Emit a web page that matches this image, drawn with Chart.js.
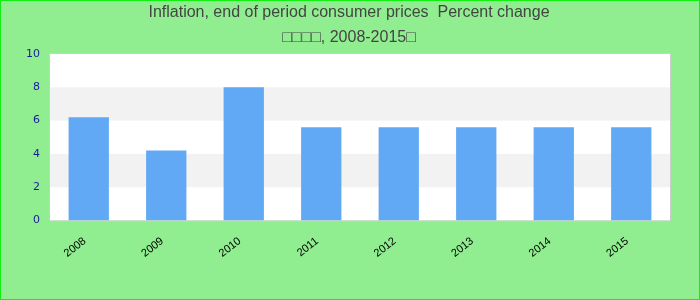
<!DOCTYPE html>
<html>
<head>
<meta charset="utf-8">
<script src="https://cdn.jsdelivr.net/npm/chart.js@4"></script>
<style>
  body { margin: 0; background: #fff; }
  #wrap { width: 700px; height: 300px; }
</style>
</head>
<body>
<div id="wrap"><canvas id="chart" width="700" height="300"></canvas></div>
<script>
/* ================= DATA ================= */
const years = ["2008", "2009", "2010", "2011", "2012", "2013", "2014", "2015"];
const inflation = [6.2, 4.2, 8.0, 5.6, 5.6, 5.6, 5.6, 5.6];
const titleLines = ["Inflation, end of period consumer prices  Percent change", "\u25A1\u25A1\u25A1\u25A1, 2008-2015\u25A1"];

/* ================= BACKGROUND + BANDS ================= */
const decor = {
    id: "decor",
    beforeDraw(c) {
        const ctx = c.ctx;
        ctx.save();
        ctx.fillStyle = "#90ee90";
        ctx.fillRect(0, 0, c.width, c.height);
        ctx.strokeStyle = "#11ee11";
        ctx.lineWidth = 1;
        ctx.strokeRect(0.5, 0.5, c.width - 1, c.height - 1);

        const a = c.chartArea;
        const y = c.scales.y;
        ctx.fillStyle = "#ffffff";
        ctx.fillRect(a.left, a.top, a.right - a.left, a.bottom - a.top);
        // alternate grey bands
        for (let v = 2; v < 10; v += 4) {
            const top = y.getPixelForValue(v + 2);
            const bot = y.getPixelForValue(v);
            ctx.fillStyle = "#f2f2f2";
            ctx.fillRect(a.left, top, a.right - a.left, bot - top);
        }
        ctx.strokeStyle = "#cccccc";
        ctx.lineWidth = 1;
        ctx.strokeRect(a.left - 0.5, a.top - 0.5, a.right - a.left + 1, a.bottom - a.top + 1);
        ctx.restore();
    },
    afterDraw(c) {
        // title centred on the whole canvas
        const ctx = c.ctx;
        ctx.save();
        ctx.fillStyle = "#444444";
        ctx.font = "16px 'Liberation Sans', Arial, sans-serif";
        ctx.textAlign = "center";
        ctx.textBaseline = "middle";
        ctx.fillText(titleLines[0], 349, 13);
        ctx.fillText(titleLines[1], 349, 38);
        ctx.restore();
    }
};

new Chart(document.getElementById("chart"), {
    type: "bar",
    data: {
        labels: years,
        datasets: [{
            data: inflation,
            backgroundColor: "#62a9f5",
            categoryPercentage: 1,
            barPercentage: 0.52
        }]
    },
    options: {
        responsive: false,
        animation: false,
        layout: { padding: { left: 18, right: 30, top: 54, bottom: 34 } },
        plugins: {
            legend: { display: false },
            tooltip: { enabled: false },
            title: { display: false }
        },
        scales: {
            x: {
                grid: { display: false },
                border: { display: false },
                ticks: {
                    color: "#000000",
                    font: { family: "'Liberation Sans', Arial, sans-serif", size: 11 },
                    minRotation: 38,
                    maxRotation: 38,
                    labelOffset: -4,
                    padding: 6
                }
            },
            y: {
                min: 0,
                max: 10,
                grid: { display: false, drawTicks: false },
                border: { display: false },
                afterFit(scale) { scale.width = 32; },
                ticks: {
                    stepSize: 2,
                    color: "#1a1a99",
                    font: { family: "'DejaVu Sans', sans-serif", size: 11 },
                    padding: 10
                }
            }
        }
    },
    plugins: [decor]
});
</script>
</body>
</html>
